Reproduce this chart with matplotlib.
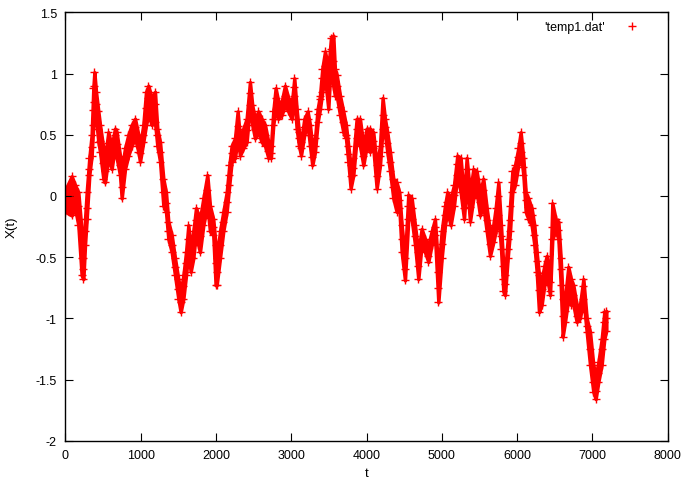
import matplotlib
matplotlib.use("Agg")
import matplotlib.pyplot as plt
import numpy as np

# Values: sample time, band centre, band top, band bottom
t = [0, 85, 129, 173, 217, 240, 262, 284, 319, 350, 372, 386, 408, 439, 461, 505, 527, 571, 616, 660,
     682, 726, 749, 793, 837, 881, 926, 970, 992, 1036, 1072, 1103, 1147, 1191, 1222, 1258, 1302, 1337, 1368, 1413,
     1457, 1501, 1532, 1568, 1603, 1634, 1665, 1700, 1736, 1767, 1788, 1833, 1886, 1921, 1965, 1996, 2010, 2054, 2098, 2143,
     2178, 2209, 2253, 2289, 2320, 2364, 2408, 2452, 2483, 2519, 2563, 2607, 2652, 2696, 2731, 2762, 2793, 2829, 2873, 2917,
     2962, 3006, 3041, 3072, 3103, 3130, 3174, 3218, 3249, 3280, 3316, 3351, 3382, 3413, 3449, 3493, 3528, 3559, 3580, 3604,
     3648, 3692, 3727, 3758, 3789, 3825, 3869, 3913, 3958, 4002, 4046, 4090, 4135, 4179, 4214, 4245, 4276, 4312, 4356, 4400,
     4436, 4467, 4511, 4555, 4600, 4644, 4688, 4732, 4777, 4821, 4865, 4909, 4954, 4998, 5042, 5073, 5117, 5162, 5206, 5250,
     5295, 5330, 5374, 5419, 5463, 5507, 5551, 5596, 5640, 5684, 5715, 5751, 5786, 5817, 5839, 5875, 5906, 5937, 5972, 6016,
     6047, 6083, 6114, 6149, 6193, 6229, 6260, 6291, 6326, 6362, 6393, 6437, 6468, 6512, 6548, 6579, 6605, 6636, 6680, 6716,
     6747, 6791, 6835, 6880, 6924, 6968, 7012, 7043, 7079, 7123, 7158, 7185]
x_mid = [-0.04, 0.03, -0.01, -0.08, -0.51, -0.60, -0.29, -0.10, 0.22, 0.40, 0.70, 0.90, 0.75, 0.55, 0.45, 0.27, 0.20, 0.43, 0.32, 0.50,
         0.42, 0.25, 0.07, 0.30, 0.40, 0.50, 0.56, 0.44, 0.35, 0.50, 0.72, 0.80, 0.70, 0.75, 0.50, 0.36, 0.03, -0.06, -0.29, -0.40,
         -0.58, -0.76, -0.87, -0.74, -0.55, -0.35, -0.50, -0.40, -0.20, -0.28, -0.33, -0.13, 0.05, -0.18, -0.25, -0.55, -0.62, -0.40, -0.21, -0.05,
         0.17, 0.35, 0.39, 0.57, 0.40, 0.47, 0.54, 0.84, 0.66, 0.55, 0.60, 0.54, 0.50, 0.37, 0.35, 0.63, 0.80, 0.70, 0.71, 0.82,
         0.74, 0.68, 0.89, 0.63, 0.47, 0.39, 0.56, 0.63, 0.50, 0.32, 0.41, 0.67, 0.79, 0.96, 1.06, 0.92, 1.20, 1.10, 0.94, 0.90,
         0.73, 0.60, 0.50, 0.34, 0.16, 0.23, 0.55, 0.52, 0.33, 0.47, 0.45, 0.45, 0.16, 0.33, 0.66, 0.56, 0.43, 0.28, 0.07, -0.02,
         -0.03, -0.35, -0.60, -0.08, -0.10, -0.33, -0.57, -0.35, -0.43, -0.49, -0.37, -0.25, -0.75, -0.39, -0.16, -0.05, -0.10, 0.01, 0.26, 0.17,
         -0.10, 0.22, -0.09, 0.11, 0.14, -0.05, 0.05, -0.20, -0.39, -0.30, -0.20, 0.00, -0.33, -0.68, -0.72, -0.43, -0.20, 0.11, 0.17, 0.32,
         0.43, 0.24, -0.03, -0.09, -0.16, -0.32, -0.53, -0.77, -0.76, -0.63, -0.53, -0.78, -0.25, -0.25, -0.28, -0.60, -0.98, -0.94, -0.73, -0.77,
         -0.81, -0.98, -0.95, -0.74, -1.06, -1.25, -1.52, -1.59, -1.45, -1.25, -1.03, -1.00]
x_hi = [0.05, 0.16, 0.09, 0.03, -0.29, -0.51, -0.19, 0.03, 0.31, 0.50, 0.88, 1.01, 0.85, 0.69, 0.58, 0.39, 0.31, 0.52, 0.41, 0.55,
        0.52, 0.33, 0.22, 0.39, 0.50, 0.58, 0.63, 0.50, 0.41, 0.58, 0.85, 0.90, 0.80, 0.85, 0.55, 0.44, 0.14, 0.03, -0.21, -0.32,
        -0.51, -0.68, -0.78, -0.65, -0.46, -0.24, -0.43, -0.29, -0.10, -0.16, -0.19, -0.02, 0.17, -0.08, -0.19, -0.40, -0.51, -0.29, -0.13, 0.03,
        0.25, 0.41, 0.47, 0.69, 0.47, 0.55, 0.63, 0.93, 0.74, 0.63, 0.69, 0.63, 0.58, 0.44, 0.41, 0.69, 0.88, 0.77, 0.77, 0.90,
        0.80, 0.74, 0.96, 0.71, 0.52, 0.44, 0.63, 0.69, 0.58, 0.41, 0.47, 0.71, 0.82, 1.04, 1.18, 1.04, 1.29, 1.31, 1.04, 0.99,
        0.82, 0.69, 0.58, 0.41, 0.25, 0.31, 0.63, 0.63, 0.41, 0.55, 0.55, 0.52, 0.25, 0.41, 0.80, 0.63, 0.52, 0.36, 0.14, 0.11,
        0.03, -0.24, -0.51, 0.01, -0.02, -0.24, -0.46, -0.27, -0.35, -0.40, -0.29, -0.19, -0.62, -0.29, -0.08, 0.03, -0.02, 0.09, 0.33, 0.31,
        -0.02, 0.31, 0.03, 0.22, 0.20, 0.03, 0.14, -0.10, -0.29, -0.24, -0.10, 0.11, -0.24, -0.57, -0.65, -0.35, -0.08, 0.20, 0.25, 0.39,
        0.52, 0.31, 0.03, -0.02, -0.10, -0.24, -0.46, -0.65, -0.68, -0.57, -0.49, -0.70, -0.06, -0.19, -0.21, -0.51, -0.84, -0.84, -0.58, -0.68,
        -0.73, -0.89, -0.89, -0.68, -1.00, -1.11, -1.38, -1.47, -1.36, -1.17, -0.95, -0.94]
x_lo = [-0.13, -0.16, -0.10, -0.24, -0.65, -0.68, -0.40, -0.19, 0.17, 0.33, 0.58, 0.77, 0.63, 0.44, 0.36, 0.14, 0.11, 0.31, 0.22, 0.41,
        0.31, 0.17, -0.02, 0.22, 0.33, 0.41, 0.47, 0.36, 0.28, 0.44, 0.58, 0.66, 0.58, 0.60, 0.41, 0.28, -0.08, -0.13, -0.35, -0.46,
        -0.65, -0.84, -0.95, -0.84, -0.65, -0.46, -0.62, -0.51, -0.29, -0.40, -0.46, -0.24, -0.08, -0.29, -0.32, -0.73, -0.73, -0.51, -0.29, -0.13,
        0.09, 0.28, 0.31, 0.47, 0.33, 0.39, 0.44, 0.74, 0.58, 0.47, 0.52, 0.44, 0.41, 0.31, 0.31, 0.58, 0.71, 0.63, 0.66, 0.74,
        0.69, 0.63, 0.82, 0.55, 0.41, 0.33, 0.50, 0.58, 0.41, 0.25, 0.36, 0.60, 0.71, 0.85, 0.96, 0.71, 1.12, 0.90, 0.82, 0.82,
        0.66, 0.52, 0.47, 0.28, 0.06, 0.17, 0.47, 0.41, 0.25, 0.41, 0.36, 0.39, 0.06, 0.25, 0.55, 0.50, 0.36, 0.20, -0.02, -0.13,
        -0.10, -0.46, -0.69, -0.19, -0.19, -0.40, -0.68, -0.40, -0.46, -0.54, -0.40, -0.32, -0.87, -0.51, -0.24, -0.13, -0.24, -0.08, 0.17, 0.03,
        -0.19, 0.14, -0.21, -0.02, 0.03, -0.16, -0.08, -0.29, -0.49, -0.38, -0.29, -0.16, -0.43, -0.78, -0.81, -0.51, -0.29, 0.03, 0.09, 0.25,
        0.36, 0.17, -0.13, -0.19, -0.24, -0.40, -0.62, -0.95, -0.89, -0.73, -0.65, -0.81, -0.35, -0.29, -0.35, -0.73, -1.15, -1.03, -0.84, -0.89,
        -0.89, -1.03, -1.00, -0.84, -1.11, -1.38, -1.60, -1.66, -1.52, -1.38, -1.17, -1.10]

x_ticks = [0, 1000, 2000, 3000, 4000, 5000, 6000, 7000, 8000]
y_ticks = [-2, -1.5, -1, -0.5, 0, 0.5, 1, 1.5]
y_ticklabels = ["-2", "-1.5", "-1", "-0.5", "0", "0.5", "1", "1.5"]
series_label = "'temp1.dat'"

RED = '#ff0000'
plt.rcParams['font.family'] = ['Liberation Sans', 'DejaVu Sans']
fig = plt.figure(figsize=(6.92, 4.85), dpi=100)
ax = fig.add_axes([65.3 / 692, 1 - 441.7 / 485, (667.7 - 65.3) / 692, (441.7 - 13.3) / 485])

# dense band of points (spread between top and bottom of the cloud)
ax.fill_between(t, x_lo, x_hi, color=RED, linewidth=2.5, edgecolor=RED)
mk = dict(marker='+', linestyle='none', color=RED, markersize=6, markeredgewidth=1.0)
ax.plot(t, x_hi, **mk)
ax.plot(t, x_lo, **mk)
ax.plot(t, x_mid, label=series_label, **mk)

ax.set_xlim(0, 8000)
ax.set_ylim(-2, 1.5)
ax.set_xticks(x_ticks)
ax.set_yticks(y_ticks)
ax.set_yticklabels(y_ticklabels)
ax.tick_params(direction='in', length=6, width=0.8, top=True, right=True, labelsize=9, colors='black')
ax.tick_params(axis='x', pad=6)
ax.tick_params(axis='y', pad=6)
for s in ax.spines.values():
    s.set_linewidth(1.0)
ax.set_xlabel('t', fontsize=9.5, labelpad=4)
ax.set_ylabel('X(t)', fontsize=9.5, labelpad=13)

leg = ax.legend(loc='upper right', bbox_to_anchor=(1 - 19 / 602.4, 1), frameon=False, markerfirst=False,
                fontsize=9, handlelength=1.2, handletextpad=1.6, borderaxespad=0.3)

fig.savefig('out.png', dpi=100)
